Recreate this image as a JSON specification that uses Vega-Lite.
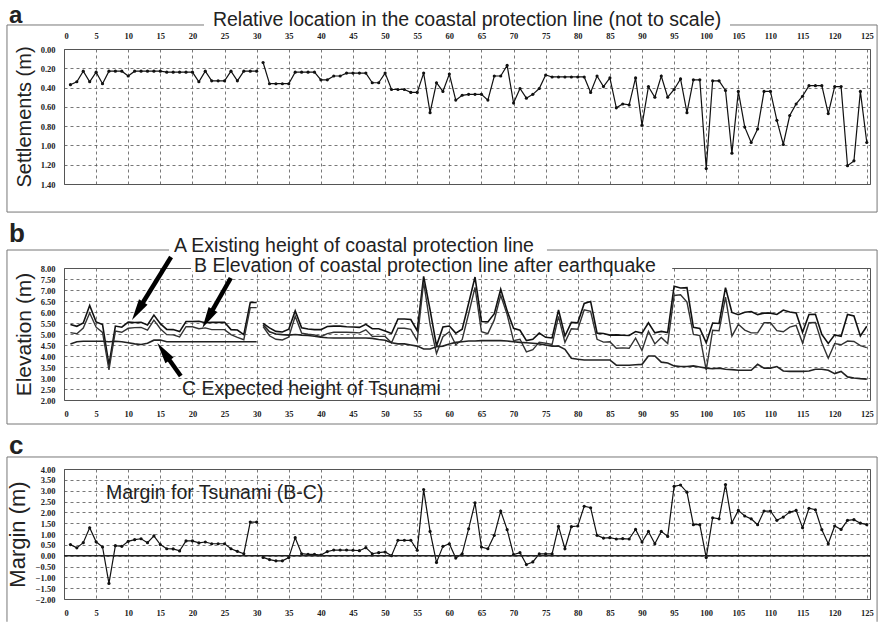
{
"$schema": "https://vega.github.io/schema/vega-lite/v6.json",
"background": "white",
"padding": {"left": 5, "top": 3, "right": 4, "bottom": 0},
"spacing": 6,
"config": {
 "view": {"stroke": "#555", "strokeWidth": 1},
 "axis": {"labelFont": "Liberation Sans Narrow", "labelFontSize": 8.5, "labelFontWeight": "bold", "labelColor": "#222", "ticks": false, "domain": false, "grid": true, "gridColor": "#555", "gridDash": [3, 3], "gridWidth": 0.8, "titleFont": "Liberation Sans", "titleFontSize": 20, "titleFontWeight": "normal", "titleColor": "#222", "labelPadding": 9, "titlePadding": 6, "labelOverlap": false},
 "text": {"font": "Liberation Sans", "color": "#222"}
},
"datasets": {"d": [
{"i":1,"seg":1,"S":0.37,"M":0.51,"C":4.55,"B":5.06,"A":5.43},
{"i":2,"seg":1,"S":0.34,"M":0.36,"C":4.65,"B":5.01,"A":5.35},
{"i":3,"seg":1,"S":0.23,"M":0.60,"C":4.67,"B":5.27,"A":5.50},
{"i":4,"seg":1,"S":0.34,"M":1.29,"C":4.67,"B":5.96,"A":6.30},
{"i":5,"seg":1,"S":0.24,"M":0.64,"C":4.67,"B":5.31,"A":5.55},
{"i":6,"seg":1,"S":0.36,"M":0.40,"C":4.67,"B":5.07,"A":5.43},
{"i":7,"seg":1,"S":0.23,"M":-1.28,"C":4.65,"B":3.37,"A":3.60},
{"i":8,"seg":1,"S":0.23,"M":0.46,"C":4.67,"B":5.13,"A":5.36},
{"i":9,"seg":1,"S":0.23,"M":0.43,"C":4.65,"B":5.08,"A":5.31},
{"i":10,"seg":1,"S":0.28,"M":0.66,"C":4.60,"B":5.26,"A":5.54},
{"i":11,"seg":1,"S":0.23,"M":0.74,"C":4.55,"B":5.29,"A":5.52},
{"i":12,"seg":1,"S":0.23,"M":0.78,"C":4.52,"B":5.30,"A":5.53},
{"i":13,"seg":1,"S":0.23,"M":0.60,"C":4.58,"B":5.18,"A":5.41},
{"i":14,"seg":1,"S":0.23,"M":0.91,"C":4.72,"B":5.63,"A":5.86},
{"i":15,"seg":1,"S":0.23,"M":0.51,"C":4.73,"B":5.24,"A":5.47},
{"i":16,"seg":1,"S":0.24,"M":0.32,"C":4.65,"B":4.97,"A":5.21},
{"i":17,"seg":1,"S":0.24,"M":0.31,"C":4.65,"B":4.96,"A":5.20},
{"i":18,"seg":1,"S":0.24,"M":0.22,"C":4.65,"B":4.87,"A":5.11},
{"i":19,"seg":1,"S":0.24,"M":0.68,"C":4.65,"B":5.33,"A":5.57},
{"i":20,"seg":1,"S":0.24,"M":0.68,"C":4.65,"B":5.33,"A":5.57},
{"i":21,"seg":1,"S":0.34,"M":0.59,"C":4.65,"B":5.24,"A":5.58},
{"i":22,"seg":1,"S":0.23,"M":0.63,"C":4.65,"B":5.28,"A":5.51},
{"i":23,"seg":1,"S":0.33,"M":0.55,"C":4.65,"B":5.20,"A":5.53},
{"i":24,"seg":1,"S":0.33,"M":0.55,"C":4.65,"B":5.20,"A":5.53},
{"i":25,"seg":1,"S":0.33,"M":0.55,"C":4.65,"B":5.20,"A":5.53},
{"i":26,"seg":1,"S":0.23,"M":0.32,"C":4.65,"B":4.97,"A":5.20},
{"i":27,"seg":1,"S":0.33,"M":0.20,"C":4.65,"B":4.85,"A":5.18},
{"i":28,"seg":1,"S":0.23,"M":0.09,"C":4.65,"B":4.74,"A":4.97},
{"i":29,"seg":1,"S":0.23,"M":1.55,"C":4.65,"B":6.20,"A":6.43},
{"i":30,"seg":1,"S":0.23,"M":1.55,"C":4.65,"B":6.20,"A":6.43},
{"i":31,"seg":2,"S":0.14,"M":-0.08,"C":5.42,"B":5.34,"A":5.48},
{"i":32,"seg":2,"S":0.36,"M":-0.18,"C":5.10,"B":4.92,"A":5.28},
{"i":33,"seg":2,"S":0.36,"M":-0.24,"C":5.00,"B":4.76,"A":5.12},
{"i":34,"seg":2,"S":0.36,"M":-0.24,"C":4.97,"B":4.73,"A":5.09},
{"i":35,"seg":2,"S":0.36,"M":-0.09,"C":4.95,"B":4.86,"A":5.22},
{"i":36,"seg":2,"S":0.24,"M":0.83,"C":4.98,"B":5.81,"A":6.05},
{"i":37,"seg":2,"S":0.24,"M":0.09,"C":4.95,"B":5.04,"A":5.28},
{"i":38,"seg":2,"S":0.24,"M":0.06,"C":4.93,"B":4.99,"A":5.23},
{"i":39,"seg":2,"S":0.24,"M":0.06,"C":4.90,"B":4.96,"A":5.20},
{"i":40,"seg":2,"S":0.32,"M":0.03,"C":4.85,"B":4.88,"A":5.20},
{"i":41,"seg":2,"S":0.32,"M":0.19,"C":4.83,"B":5.02,"A":5.34},
{"i":42,"seg":2,"S":0.28,"M":0.26,"C":4.82,"B":5.08,"A":5.36},
{"i":43,"seg":2,"S":0.28,"M":0.26,"C":4.82,"B":5.08,"A":5.36},
{"i":44,"seg":2,"S":0.25,"M":0.26,"C":4.82,"B":5.08,"A":5.33},
{"i":45,"seg":2,"S":0.25,"M":0.25,"C":4.82,"B":5.07,"A":5.32},
{"i":46,"seg":2,"S":0.25,"M":0.23,"C":4.82,"B":5.05,"A":5.30},
{"i":47,"seg":2,"S":0.25,"M":0.37,"C":4.82,"B":5.19,"A":5.44},
{"i":48,"seg":2,"S":0.35,"M":0.09,"C":4.80,"B":4.89,"A":5.24},
{"i":49,"seg":2,"S":0.35,"M":0.14,"C":4.75,"B":4.89,"A":5.24},
{"i":50,"seg":2,"S":0.25,"M":0.17,"C":4.72,"B":4.89,"A":5.14},
{"i":51,"seg":2,"S":0.42,"M":0.00,"C":4.60,"B":4.60,"A":5.02},
{"i":52,"seg":2,"S":0.42,"M":0.71,"C":4.55,"B":5.26,"A":5.68},
{"i":53,"seg":2,"S":0.42,"M":0.71,"C":4.55,"B":5.26,"A":5.68},
{"i":54,"seg":2,"S":0.45,"M":0.71,"C":4.50,"B":5.21,"A":5.66},
{"i":55,"seg":2,"S":0.45,"M":0.25,"C":4.45,"B":4.70,"A":5.15},
{"i":56,"seg":2,"S":0.25,"M":3.05,"C":4.32,"B":7.37,"A":7.62},
{"i":57,"seg":2,"S":0.66,"M":1.12,"C":4.32,"B":5.44,"A":6.10},
{"i":58,"seg":2,"S":0.35,"M":-0.31,"C":4.42,"B":4.11,"A":4.46},
{"i":59,"seg":2,"S":0.44,"M":0.43,"C":4.45,"B":4.88,"A":5.32},
{"i":60,"seg":2,"S":0.26,"M":0.55,"C":4.55,"B":5.10,"A":5.36},
{"i":61,"seg":2,"S":0.53,"M":-0.11,"C":4.62,"B":4.51,"A":5.04},
{"i":62,"seg":2,"S":0.48,"M":0.09,"C":4.65,"B":4.74,"A":5.22},
{"i":63,"seg":2,"S":0.47,"M":1.24,"C":4.68,"B":5.92,"A":6.39},
{"i":64,"seg":2,"S":0.47,"M":2.44,"C":4.68,"B":7.12,"A":7.59},
{"i":65,"seg":2,"S":0.47,"M":0.40,"C":4.70,"B":5.10,"A":5.57},
{"i":66,"seg":2,"S":0.53,"M":0.32,"C":4.70,"B":5.02,"A":5.55},
{"i":67,"seg":2,"S":0.28,"M":0.94,"C":4.70,"B":5.64,"A":5.92},
{"i":68,"seg":2,"S":0.28,"M":2.06,"C":4.70,"B":6.76,"A":7.04},
{"i":69,"seg":2,"S":0.17,"M":1.20,"C":4.68,"B":5.88,"A":6.05},
{"i":70,"seg":2,"S":0.56,"M":0.05,"C":4.65,"B":4.70,"A":5.26},
{"i":71,"seg":2,"S":0.41,"M":0.14,"C":4.62,"B":4.76,"A":5.17},
{"i":72,"seg":2,"S":0.51,"M":-0.41,"C":4.60,"B":4.19,"A":4.70},
{"i":73,"seg":2,"S":0.47,"M":-0.29,"C":4.58,"B":4.29,"A":4.76},
{"i":74,"seg":2,"S":0.41,"M":0.08,"C":4.55,"B":4.63,"A":5.04},
{"i":75,"seg":2,"S":0.27,"M":0.08,"C":4.50,"B":4.58,"A":4.85},
{"i":76,"seg":2,"S":0.29,"M":0.08,"C":4.45,"B":4.53,"A":4.82},
{"i":77,"seg":2,"S":0.29,"M":1.35,"C":4.45,"B":5.80,"A":6.09},
{"i":78,"seg":2,"S":0.29,"M":0.32,"C":4.30,"B":4.62,"A":4.91},
{"i":79,"seg":2,"S":0.29,"M":1.34,"C":3.90,"B":5.24,"A":5.53},
{"i":80,"seg":2,"S":0.29,"M":1.37,"C":3.85,"B":5.22,"A":5.51},
{"i":81,"seg":2,"S":0.29,"M":2.28,"C":3.82,"B":6.10,"A":6.39},
{"i":82,"seg":2,"S":0.45,"M":2.21,"C":3.82,"B":6.03,"A":6.48},
{"i":83,"seg":2,"S":0.28,"M":0.94,"C":3.82,"B":4.76,"A":5.04},
{"i":84,"seg":2,"S":0.39,"M":0.81,"C":3.82,"B":4.63,"A":5.02},
{"i":85,"seg":2,"S":0.30,"M":0.83,"C":3.82,"B":4.65,"A":4.95},
{"i":86,"seg":2,"S":0.61,"M":0.77,"C":3.58,"B":4.35,"A":4.96},
{"i":87,"seg":2,"S":0.57,"M":0.79,"C":3.58,"B":4.37,"A":4.94},
{"i":88,"seg":2,"S":0.58,"M":0.77,"C":3.58,"B":4.35,"A":4.93},
{"i":89,"seg":2,"S":0.30,"M":1.21,"C":3.60,"B":4.81,"A":5.11},
{"i":90,"seg":2,"S":0.79,"M":0.63,"C":3.62,"B":4.25,"A":5.04},
{"i":91,"seg":2,"S":0.39,"M":1.12,"C":4.00,"B":5.12,"A":5.51},
{"i":92,"seg":2,"S":0.50,"M":0.55,"C":4.00,"B":4.55,"A":5.05},
{"i":93,"seg":2,"S":0.28,"M":1.12,"C":3.72,"B":4.84,"A":5.12},
{"i":94,"seg":2,"S":0.50,"M":0.89,"C":3.68,"B":4.57,"A":5.07},
{"i":95,"seg":2,"S":0.42,"M":3.20,"C":3.55,"B":6.75,"A":7.17},
{"i":96,"seg":2,"S":0.31,"M":3.26,"C":3.52,"B":6.78,"A":7.09},
{"i":97,"seg":2,"S":0.66,"M":2.93,"C":3.52,"B":6.45,"A":7.11},
{"i":98,"seg":2,"S":0.32,"M":1.43,"C":3.55,"B":4.98,"A":5.30},
{"i":99,"seg":2,"S":0.32,"M":1.43,"C":3.50,"B":4.93,"A":5.25},
{"i":100,"seg":2,"S":1.24,"M":-0.09,"C":3.45,"B":3.36,"A":4.60},
{"i":101,"seg":2,"S":0.33,"M":1.75,"C":3.42,"B":5.17,"A":5.50},
{"i":102,"seg":2,"S":0.33,"M":1.70,"C":3.45,"B":5.15,"A":5.48},
{"i":103,"seg":2,"S":0.43,"M":3.28,"C":3.40,"B":6.68,"A":7.11},
{"i":104,"seg":2,"S":1.08,"M":1.52,"C":3.38,"B":4.90,"A":5.98},
{"i":105,"seg":2,"S":0.44,"M":2.09,"C":3.35,"B":5.44,"A":5.88},
{"i":106,"seg":2,"S":0.81,"M":1.83,"C":3.35,"B":5.18,"A":5.99},
{"i":107,"seg":2,"S":0.97,"M":1.70,"C":3.35,"B":5.05,"A":6.02},
{"i":108,"seg":2,"S":0.83,"M":1.43,"C":3.62,"B":5.05,"A":5.88},
{"i":109,"seg":2,"S":0.44,"M":2.06,"C":3.45,"B":5.51,"A":5.95},
{"i":110,"seg":2,"S":0.44,"M":2.06,"C":3.45,"B":5.51,"A":5.95},
{"i":111,"seg":2,"S":0.74,"M":1.63,"C":3.52,"B":5.15,"A":5.89},
{"i":112,"seg":2,"S":0.99,"M":1.78,"C":3.32,"B":5.10,"A":6.09},
{"i":113,"seg":2,"S":0.69,"M":2.01,"C":3.30,"B":5.31,"A":6.00},
{"i":114,"seg":2,"S":0.57,"M":2.09,"C":3.30,"B":5.39,"A":5.96},
{"i":115,"seg":2,"S":0.49,"M":1.29,"C":3.30,"B":4.59,"A":5.08},
{"i":116,"seg":2,"S":0.38,"M":2.19,"C":3.32,"B":5.51,"A":5.89},
{"i":117,"seg":2,"S":0.38,"M":2.12,"C":3.40,"B":5.52,"A":5.90},
{"i":118,"seg":2,"S":0.38,"M":1.20,"C":3.40,"B":4.60,"A":4.98},
{"i":119,"seg":2,"S":0.67,"M":0.55,"C":3.35,"B":3.90,"A":4.57},
{"i":120,"seg":2,"S":0.39,"M":1.37,"C":3.20,"B":4.57,"A":4.96},
{"i":121,"seg":2,"S":0.39,"M":1.21,"C":3.30,"B":4.51,"A":4.90},
{"i":122,"seg":2,"S":1.21,"M":1.63,"C":3.05,"B":4.68,"A":5.89},
{"i":123,"seg":2,"S":1.16,"M":1.66,"C":3.00,"B":4.66,"A":5.82},
{"i":124,"seg":2,"S":0.44,"M":1.50,"C":2.97,"B":4.47,"A":4.91},
{"i":125,"seg":2,"S":0.97,"M":1.43,"C":2.95,"B":4.38,"A":5.35}
]},
"vconcat": [
{
 "width": 806, "height": 135,
 "resolve": {"axis": {"x": "independent", "y": "independent"}},
 "layer": [
  {"data": {"name": "d"},
   "mark": {"type": "line", "color": "#111", "strokeWidth": 1.2, "point": {"filled": true, "size": 10, "color": "#111"}},
   "encoding": {
    "x": {"field": "i", "type": "quantitative", "scale": {"domain": [0, 125.5], "nice": false, "zero": false},
          "axis": {"orient": "top", "values": [0,5,10,15,20,25,30,35,40,45,50,55,60,65,70,75,80,85,90,95,100,105,110,115,120,125], "title": null}},
    "y": {"field": "S", "type": "quantitative", "scale": {"domain": [0, 1.4], "reverse": true, "nice": false, "zero": false},
          "axis": {"values": [0,0.2,0.4,0.6,0.8,1,1.2,1.4], "format": ".2f", "title": "Settlements (m)"}},
    "detail": {"field": "seg"}
   }},
  {"data": {"values": [{}]},
   "mark": {"type": "rect", "filled": false, "stroke": "#777", "strokeWidth": 1},
   "encoding": {"x": {"datum": -8.88, "type": "quantitative", "axis": null}, "x2": {"datum": 126.6}, "y": {"datum": -0.249, "type": "quantitative", "axis": null}, "y2": {"datum": 1.691}}},
  {"data": {"values": [{}]},
   "mark": {"type": "rect", "fill": "white", "strokeWidth": 0},
   "encoding": {"x": {"datum": 21.8, "type": "quantitative", "axis": null}, "x2": {"datum": 103.7}, "y": {"datum": -0.29, "type": "quantitative", "axis": null}, "y2": {"datum": -0.207}}},
  {"data": {"values": [{}]},
   "mark": {"type": "text", "text": "Relative location in the coastal protection line (not to scale)", "fontSize": 19.5, "align": "center", "baseline": "alphabetic"},
   "encoding": {"x": {"datum": 62.77, "type": "quantitative", "axis": null}, "y": {"datum": -0.2385, "type": "quantitative", "axis": null}}},
  {"data": {"values": [{}]},
   "mark": {"type": "text", "text": "a", "fontSize": 24, "fontWeight": "bold", "align": "left", "baseline": "alphabetic"},
   "encoding": {"x": {"datum": -8.57, "type": "quantitative", "axis": null}, "y": {"datum": -0.2696, "type": "quantitative", "axis": null}}}
 ]
},
{
 "width": 806, "height": 132,
 "resolve": {"axis": {"x": "independent", "y": "independent"}},
 "layer": [
  {"data": {"name": "d"},
   "mark": {"type": "line", "color": "#111", "strokeWidth": 1.6},
   "encoding": {
    "x": {"field": "i", "type": "quantitative", "scale": {"domain": [0, 125.5], "nice": false, "zero": false},
          "axis": {"orient": "bottom", "values": [0,5,10,15,20,25,30,35,40,45,50,55,60,65,70,75,80,85,90,95,100,105,110,115,120,125], "title": null}},
    "y": {"field": "A", "type": "quantitative", "scale": {"domain": [2, 8], "nice": false, "zero": false},
          "axis": {"values": [2,2.5,3,3.5,4,4.5,5,5.5,6,6.5,7,7.5,8], "format": ".2f", "title": "Elevation (m)", "titleFontSize": 21}},
    "detail": {"field": "seg"}
   }},
  {"data": {"name": "d"},
   "mark": {"type": "line", "color": "#333", "strokeWidth": 1.4},
   "encoding": {"x": {"field": "i", "type": "quantitative", "axis": null}, "y": {"field": "B", "type": "quantitative", "axis": null}, "detail": {"field": "seg"}}},
  {"data": {"name": "d"},
   "mark": {"type": "line", "color": "#222", "strokeWidth": 1.6},
   "encoding": {"x": {"field": "i", "type": "quantitative", "axis": null}, "y": {"field": "C", "type": "quantitative", "axis": null}, "detail": {"field": "seg"}}},
  {"data": {"values": [{}]},
   "mark": {"type": "rect", "filled": false, "stroke": "#777", "strokeWidth": 1},
   "encoding": {"x": {"datum": -8.88, "type": "quantitative", "axis": null}, "x2": {"datum": 126.6}, "y": {"datum": 8.818, "type": "quantitative", "axis": null}, "y2": {"datum": 0.909}}},
  {"data": {"values": [{}]},
   "mark": {"type": "rect", "fill": "white", "strokeWidth": 0},
   "encoding": {"x": {"datum": 16.36, "type": "quantitative", "axis": null}, "x2": {"datum": 75.2}, "y": {"datum": 9.45, "type": "quantitative", "axis": null}, "y2": {"datum": 8.5}}},
  {"data": {"values": [{}]},
   "mark": {"type": "rect", "fill": "white", "strokeWidth": 0},
   "encoding": {"x": {"datum": 19.78, "type": "quantitative", "axis": null}, "x2": {"datum": 94.7}, "y": {"datum": 8.136, "type": "quantitative", "axis": null}, "y2": {"datum": 7.864}}},
  {"data": {"values": [{}]},
   "mark": {"type": "text", "text": "A Existing height of coastal protection line", "fontSize": 19.5, "align": "left", "baseline": "alphabetic"},
   "encoding": {"x": {"datum": 17.13, "type": "quantitative", "axis": null}, "y": {"datum": 8.727, "type": "quantitative", "axis": null}}},
  {"data": {"values": [{}]},
   "mark": {"type": "text", "text": "B Elevation of coastal protection line after earthquake", "fontSize": 19.5, "align": "left", "baseline": "alphabetic"},
   "encoding": {"x": {"datum": 20.25, "type": "quantitative", "axis": null}, "y": {"datum": 7.82, "type": "quantitative", "axis": null}}},
  {"data": {"values": [{}]},
   "mark": {"type": "text", "text": "C Expected height of Tsunami", "fontSize": 19.5, "align": "left", "baseline": "alphabetic"},
   "encoding": {"x": {"datum": 18.38, "type": "quantitative", "axis": null}, "y": {"datum": 2.227, "type": "quantitative", "axis": null}}},
  {"data": {"values": [{}]},
   "mark": {"type": "text", "text": "b", "fontSize": 26, "fontWeight": "bold", "align": "left", "baseline": "alphabetic"},
   "encoding": {"x": {"datum": -8.57, "type": "quantitative", "axis": null}, "y": {"datum": 9.18, "type": "quantitative", "axis": null}}},
  {"data": {"values": [{}]},
   "mark": {"type": "rule", "color": "#000", "strokeWidth": 4.5},
   "encoding": {"x": {"datum": 16.67, "type": "quantitative", "axis": null}, "x2": {"datum": 11.59}, "y": {"datum": 8.5, "type": "quantitative", "axis": null}, "y2": {"datum": 6.1}}},
  {"data": {"values": [{}]},
   "mark": {"type": "point", "shape": "M0,0L0.45,1.9L-0.45,1.9Z", "filled": true, "color": "#000", "opacity": 1, "size": 500, "angle": 212},
   "encoding": {"x": {"datum": 10.59, "type": "quantitative", "axis": null}, "y": {"datum": 5.636, "type": "quantitative", "axis": null}}},
  {"data": {"values": [{}]},
   "mark": {"type": "rule", "color": "#000", "strokeWidth": 4.5},
   "encoding": {"x": {"datum": 25.97, "type": "quantitative", "axis": null}, "x2": {"datum": 22.46}, "y": {"datum": 7.545, "type": "quantitative", "axis": null}, "y2": {"datum": 5.745}}},
  {"data": {"values": [{}]},
   "mark": {"type": "point", "shape": "M0,0L0.45,1.9L-0.45,1.9Z", "filled": true, "color": "#000", "opacity": 1, "size": 500, "angle": 210},
   "encoding": {"x": {"datum": 21.54, "type": "quantitative", "axis": null}, "y": {"datum": 5.273, "type": "quantitative", "axis": null}}},
  {"data": {"values": [{}]},
   "mark": {"type": "rule", "color": "#000", "strokeWidth": 4.5},
   "encoding": {"x": {"datum": 18.18, "type": "quantitative", "axis": null}, "x2": {"datum": 15.61}, "y": {"datum": 3.091, "type": "quantitative", "axis": null}, "y2": {"datum": 4.145}}},
  {"data": {"values": [{}]},
   "mark": {"type": "point", "shape": "M0,0L0.45,1.9L-0.45,1.9Z", "filled": true, "color": "#000", "opacity": 1, "size": 500, "angle": 325},
   "encoding": {"x": {"datum": 14.53, "type": "quantitative", "axis": null}, "y": {"datum": 4.591, "type": "quantitative", "axis": null}}}
 ]
},
{
 "width": 806, "height": 130,
 "resolve": {"axis": {"x": "independent", "y": "independent"}},
 "layer": [
  {"data": {"name": "d"},
   "mark": {"type": "line", "color": "#111", "strokeWidth": 1.2, "point": {"filled": true, "size": 10, "color": "#111"}},
   "encoding": {
    "x": {"field": "i", "type": "quantitative", "scale": {"domain": [0, 125.5], "nice": false, "zero": false},
          "axis": {"orient": "bottom", "values": [0,5,10,15,20,25,30,35,40,45,50,55,60,65,70,75,80,85,90,95,100,105,110,115,120,125], "title": null}},
    "y": {"field": "M", "type": "quantitative", "scale": {"domain": [-2, 4], "nice": false, "zero": false},
          "axis": {"values": [-2,-1.5,-1,-0.5,0,0.5,1,1.5,2,2.5,3,3.5,4], "format": ".2f", "title": "Margin (m)", "titleFontSize": 22}},
    "detail": {"field": "seg"}
   }},
  {"data": {"values": [{}]},
   "mark": {"type": "rule", "color": "#222", "strokeWidth": 1.5},
   "encoding": {"y": {"datum": 0, "type": "quantitative", "axis": null}}},
  {"data": {"values": [{}]},
   "mark": {"type": "rule", "color": "#777", "strokeWidth": 1},
   "encoding": {"x": {"datum": -8.88, "type": "quantitative", "axis": null}, "x2": {"datum": 126.6}, "y": {"datum": 4.554, "type": "quantitative", "axis": null}}},
  {"data": {"values": [{}]},
   "mark": {"type": "rule", "color": "#777", "strokeWidth": 1},
   "encoding": {"x": {"datum": -8.88, "type": "quantitative", "axis": null}, "y": {"datum": 4.554, "type": "quantitative", "axis": null}, "y2": {"datum": -3.05}}},
  {"data": {"values": [{}]},
   "mark": {"type": "rule", "color": "#777", "strokeWidth": 1},
   "encoding": {"x": {"datum": 126.6, "type": "quantitative", "axis": null}, "y": {"datum": 4.554, "type": "quantitative", "axis": null}, "y2": {"datum": -3.05}}},
  {"data": {"values": [{}]},
   "mark": {"type": "text", "text": "Margin for Tsunami (B-C)", "fontSize": 19.5, "align": "left", "baseline": "alphabetic"},
   "encoding": {"x": {"datum": 6.54, "type": "quantitative", "axis": null}, "y": {"datum": 2.616, "type": "quantitative", "axis": null}}},
  {"data": {"values": [{}]},
   "mark": {"type": "text", "text": "c", "fontSize": 26, "fontWeight": "bold", "align": "left", "baseline": "alphabetic"},
   "encoding": {"x": {"datum": -8.57, "type": "quantitative", "axis": null}, "y": {"datum": 4.692, "type": "quantitative", "axis": null}}}
 ]
}
]
}
